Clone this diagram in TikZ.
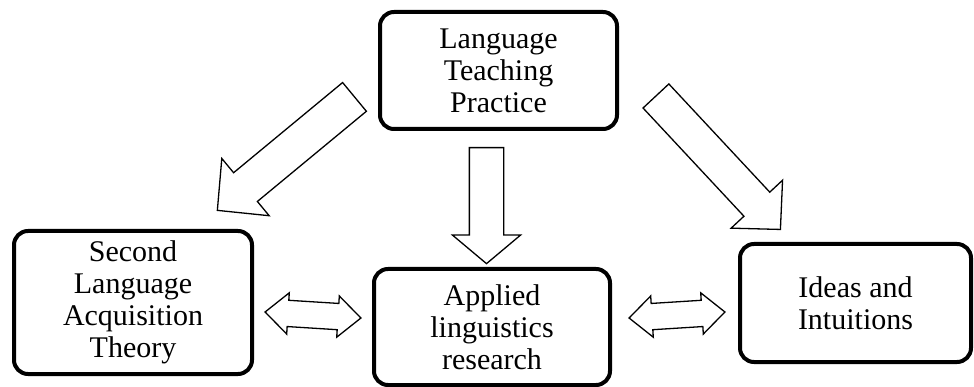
\documentclass[tikz,border=0pt]{standalone}
\usepackage{fontspec}
\setmainfont{Liberation Serif}
\usetikzlibrary{shapes.arrows}

\tikzset{
  boxnode/.style={draw, line width=4pt, rounded corners=14pt, align=center,
    font=\fontsize{30}{32}\selectfont},
  blockarrow/.style={draw, single arrow, line width=1.3pt, inner xsep=0pt, fill=white},
  twoway/.style={draw, double arrow, line width=1.3pt, inner xsep=0pt, inner ysep=12.5pt, fill=white,
    minimum height=96pt, double arrow head extend=7.5pt, double arrow tip angle=84},
}

\begin{document}
\begin{tikzpicture}[x=1pt, y=-1pt]
            \useasboundingbox (0,0) rectangle (974,387);

            \node[boxnode, minimum width=237pt, minimum height=117pt] (ltp) at (498.5,70.5) {Language\\Teaching\\Practice};
            \node[boxnode, minimum width=238pt, minimum height=143pt] (sla) at (133,302.5) {Second\\Language\\Acquisition\\Theory};
            \node[boxnode, minimum width=236pt, minimum height=116pt] (alr) at (492,327) {Applied\\linguistics\\research};
            \node[boxnode, minimum width=231pt, minimum height=118pt] (iai) at (855.5,303) {Ideas and\\Intuitions};

            % one-way arrows out of the practice box
            \node[blockarrow, minimum height=178pt, inner ysep=18pt, single arrow head extend=18.5pt,
                  single arrow tip angle=91, rotate=219.6, anchor=tail] (ltp-sla) at (355,96.5) {};
            \node[blockarrow, minimum height=116pt, inner ysep=16.5pt, single arrow head extend=17pt,
                  single arrow tip angle=100, rotate=-90, anchor=tail] (ltp-alr) at (486.5,147) {};
            \node[blockarrow, minimum height=182.5pt, inner ysep=17pt, single arrow head extend=17.5pt,
                  single arrow tip angle=91, rotate=-47, anchor=tail] (ltp-iai) at (655.5,95.5) {};

            % two-way arrows
            \node[twoway, rotate=-3.6] (sla-alr) at (313,315) {};
            \node[twoway, rotate=3.6] (alr-iai) at (677,315) {};

        \end{tikzpicture}
\end{document}
